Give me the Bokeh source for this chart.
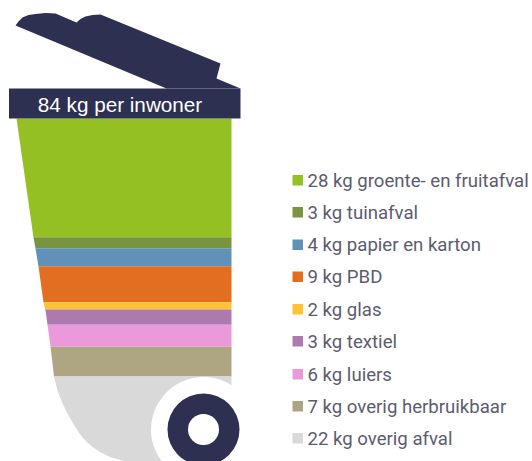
from bokeh.plotting import figure
from bokeh.models import Range1d
from bokeh.core.properties import value
from bokeh.embed import file_html
from bokeh.resources import INLINE
import numpy as np

# data
categories = ["groente- en fruitafval", "tuinafval", "papier en karton", "PBD", "glas",
              "textiel", "luiers", "overig herbruikbaar", "overig afval"]
label_kg = [28, 3, 4, 9, 2, 3, 6, 7, 22]
band_kg = [29.1, 2.7, 4.4, 8.8, 1.8, 3.7, 5.4, 7.3, 20.9]
colors = ["#94c024", "#789440", "#6091b8", "#e36e20", "#fdc336",
          "#ad79ae", "#ea9adb", "#aea583", "#d9d9d9"]
total_label = "84 kg per inwoner"

W, H = 532, 461
OFF = 0
PX_PER_KG = 4.083
NAVY = "#2e3052"

p = figure(width=W, height=H, output_backend="svg", toolbar_location=None,
           x_range=Range1d(0, W), y_range=Range1d(0, H / PX_PER_KG),
           min_border=0, outline_line_color=None, background_fill_color="white",
           border_fill_color="white")
p.axis.visible = False
p.grid.visible = False

def X(px):
    return np.asarray(px, dtype=float) - OFF

def Y(px):
    return (OFF + H - np.asarray(px, dtype=float)) / PX_PER_KG

# bin silhouette, left edge (page pixels)
edge_y = [118, 237, 248, 266, 302, 310, 324, 346, 376, 390, 403, 413, 422, 430, 437, 445, 452, 457, 461]
edge_x = [16, 33, 35, 38, 43, 45, 47, 50, 53.5, 57, 62, 67, 72, 77, 82, 90, 100, 111, 125]
RIGHT = 231

top = Y(118)
for kg, col in zip(band_kg, colors):
    bottom = max(top - kg, 0)
    ys = np.linspace(top, bottom, 40)
    page_y = OFF + H - ys * PX_PER_KG
    left = np.interp(page_y, edge_y, edge_x)
    p.patch(list(X(left)) + [X(RIGHT), X(RIGHT)], list(ys) + [bottom, top],
            fill_color=col, line_color=None)
    top = bottom

# wheel
cx, cy = X(203), Y(429)
for r, col in [(52.5, "white"), (36, NAVY), (15.5, "white")]:
    p.circle(x=[cx], y=[cy], radius=r, fill_color=col, line_color=None, radius_units="data")

# lid
lid_x = [15, 18, 22, 28, 35, 45, 55, 76, 80, 85, 92, 100, 220, 216, 240, 166]
lid_y = [25, 21, 17, 14.5, 13.5, 12.5, 13, 22, 18.5, 16, 14.5, 14, 63, 78, 88, 88]
p.patch(list(X(lid_x)), list(Y(lid_y)), fill_color=NAVY, line_color=None)

# header bar
p.quad(left=[X(8.5)], right=[X(240)], top=[Y(88)], bottom=[Y(118)],
       fill_color=NAVY, line_color=None)
p.text(x=[X(119.5)], y=[Y(103.5)], text=[total_label], text_color="white",
       text_font=value("Liberation Sans"), text_font_size="20.7px",
       text_align="center", text_baseline="middle")

# legend
rows = [180, 212, 244.5, 276.5, 309, 341, 374, 406, 438]
for row, kg, name, col in zip(rows, label_kg, categories, colors):
    p.quad(left=[X(292)], right=[X(302.5)], top=[Y(row - 5.5)], bottom=[Y(row + 5)],
           fill_color=col, line_color=None)
    p.text(x=[X(307)], y=[Y(row)], text=[f"{kg} kg {name}"], text_color="#5c5c6e",
           text_font=value("Roboto"), text_font_size="18.6px",
           text_align="left", text_baseline="middle")

open("out.html", "w").write(file_html(p, INLINE))
